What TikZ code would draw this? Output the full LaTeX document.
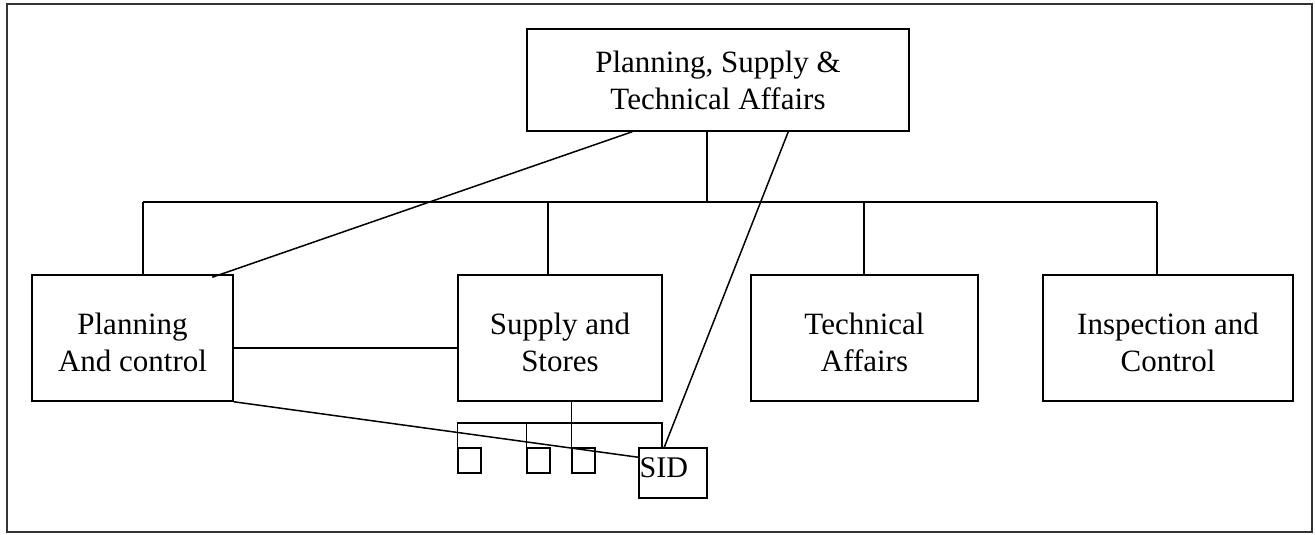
\documentclass[tikz,border=0pt]{standalone}
\usepackage{fontspec}
\setmainfont{Liberation Serif}
\newcommand{\lowtext}[1]{\raisebox{-14pt}[0pt][0pt]{\begin{tabular}{@{}c@{}}#1\end{tabular}}}
\begin{document}
\begin{tikzpicture}[x=1pt,y=-1pt,
  box/.style={draw,line width=1.5pt,rectangle,inner sep=0pt,align=center,
    font=\fontsize{31}{37}\selectfont,text=black},
  tiny/.style={draw,line width=1.5pt,rectangle,inner sep=0pt,minimum width=23pt,minimum height=25pt},
  conn/.style={line width=1.5pt}]
\useasboundingbox (0,0) rectangle (1315,535);
\draw[line width=2.5pt,black!80] (7,4) rectangle (1312,532);

\node[box,minimum width=382pt,minimum height=102pt] (top) at (718,80) {Planning, Supply \&\\Technical Affairs};
\node[box,minimum width=201pt,minimum height=126pt] (pc) at (132.5,338) {\lowtext{Planning\\And control}};
\node[box,minimum width=204pt,minimum height=126pt] (ss) at (560,338) {\lowtext{Supply and\\Stores}};
\node[box,minimum width=227pt,minimum height=126pt] (ta) at (864.5,338) {\lowtext{Technical\\Affairs}};
\node[box,minimum width=250pt,minimum height=126pt] (ic) at (1168,338) {\lowtext{Inspection and\\Control}};
\node[tiny] (b1) at (469.5,460.5) {};
\node[tiny] (b2) at (538.5,460.5) {};
\node[tiny] (b3) at (583.5,460.5) {};
\node[draw,line width=1.5pt,minimum width=68pt,minimum height=50pt,inner sep=0pt] (sid) at (673,473) {};
\node[anchor=west,inner sep=0pt,font=\fontsize{30}{36}\selectfont,text=black] (sidt) at (639.5,468) {SID};

\coordinate (busM) at (707,202);
\coordinate (busL) at (143,202);
\coordinate (busR) at (1157,202);
\coordinate (busS) at (548,202);
\coordinate (busT) at (864,202);
\coordinate (brR) at (662,423);

\draw[conn] (busM |- top.south) -- (busM);
\draw[conn] (busL) -- (busR);
\draw[conn] (busL) -- (busL |- pc.north);
\draw[conn] (busS) -- (busS |- ss.north);
\draw[conn] (busT) -- (busT |- ta.north);
\draw[conn] (busR) -- (busR |- ic.north);

\draw[conn] ([xshift=106pt]top.south west) -- ([xshift=181pt,yshift=-3pt]pc.north west);
\draw[conn] ([xshift=262pt]top.south west) -- ([xshift=26pt]sid.north west);
\draw[conn] ([yshift=-10pt]pc.east) -- ([yshift=-10pt]ss.west);
\draw[conn] (pc.south east) -- ([yshift=-10pt]sid.north west);

\draw[conn] ([xshift=114pt]ss.south west) -- (b3.north west);
\draw[conn] (b1.north west) |- (brR) -- (brR |- sid.north);
\draw[conn] (b2.north west) -- (b2.north west |- brR);
\end{tikzpicture}
\end{document}
